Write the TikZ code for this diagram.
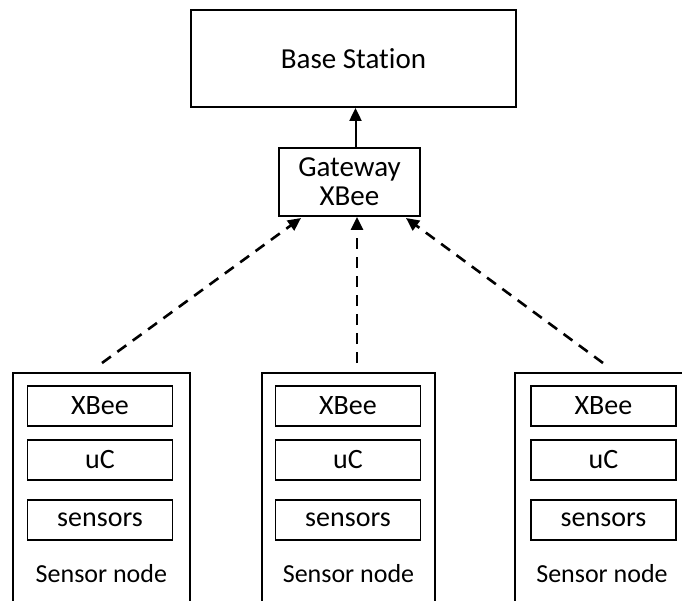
\documentclass[tikz,border=0pt]{standalone}
\usepackage{fontspec}
\setmainfont{Carlito}[Ligatures={NoCommon}]
\usetikzlibrary{arrows.meta,calc}
\tikzset{
  box/.style={draw=black, line width=1.8pt, fill=white, inner sep=0pt, align=center},
  inbox/.style={draw=black, line width=1.5pt, inner sep=0pt, minimum width=145pt, minimum height=40pt, font=\fontsize{28}{30}\selectfont},
  solidarrow/.style={line width=2pt, -{Triangle[length=13pt,width=12pt]}},
  dasharrow/.style={line width=2.6pt, dash pattern=on 11pt off 8pt, -{Triangle[length=13pt,width=12pt]}},
  outer/.style={draw=black, line width=1.8pt},
  lbl/.style={font=\fontsize{26}{28}\selectfont, inner sep=0pt}
}
\begin{document}
\begin{tikzpicture}[x=1pt,y=-1pt]
\useasboundingbox (0,0) rectangle (682,601);
\clip (0,0) rectangle (682,601);
% Base station
\node[box, minimum width=325pt, minimum height=97pt, font=\fontsize{29}{30}\selectfont] (base) at (353.5,58.5) {Base Station};
% Gateway
\node[box, minimum width=141pt, minimum height=68pt, font=\fontsize{29}{29}\selectfont] (gw) at (349.5,182) {Gateway\\XBee};
% Sensor node outer boxes (open at bottom, clipped)
\draw[outer] (12.7,620) -- (12.7,373) -- (190,373) -- (190,620);
\draw[outer] (262,620) -- (262,373) -- (435,373) -- (435,620);
\draw[outer] (515,620) -- (515,373) -- (689,373) -- (689,620);
% inner boxes
\foreach \n/\cx in {a/100, b/348, c/603.5} {
  \node[inbox] (\n x) at (\cx,406) {XBee};
  \node[inbox] (\n u) at (\cx,460) {uC};
  \node[inbox] (\n s) at (\cx,520) {sensors};
}
\node[lbl] (al) at (101.4,574) {Sensor node};
\node[lbl] (bl) at (348.5,574) {Sensor node};
\node[lbl] (cl) at (602,574) {Sensor node};
% connectors
\draw[solidarrow] (gw.north -| 355.5,0) -- (base.south -| 355.5,0);
\coordinate (sa) at (102,363);
\coordinate (sb) at (357,363);
\coordinate (sc) at (603,363);
\coordinate (ta) at (301,218);
\coordinate (tb) at (357,217);
\coordinate (tc) at (406,218);
\draw[dasharrow] (sa) -- (ta);
\draw[dasharrow] (sb) -- (tb);
\draw[dasharrow] (sc) -- (tc);
\end{tikzpicture}
\end{document}
